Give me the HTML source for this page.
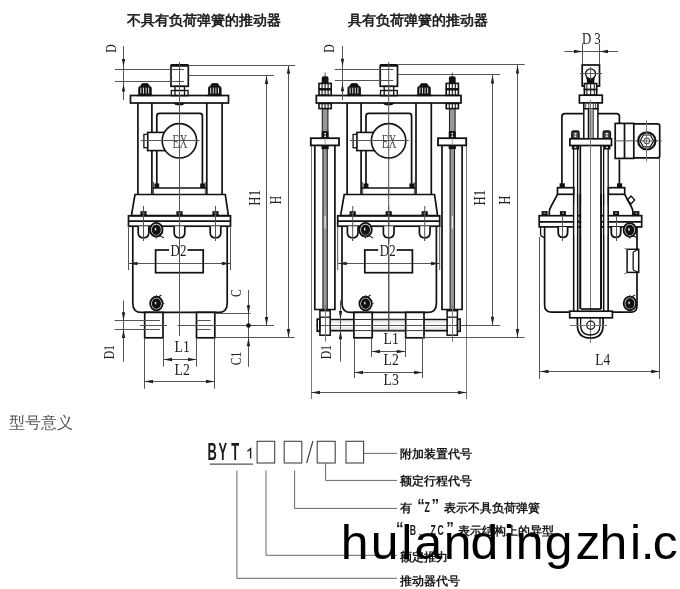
<!DOCTYPE html>
<html><head><meta charset="utf-8"><style>
html,body{margin:0;padding:0;background:#fff;width:680px;height:589px;overflow:hidden}
svg{display:block}
.sf{font-family:"Liberation Serif",serif;fill:#222}
.ls{font-family:"Liberation Sans",sans-serif}
.cj{font-family:"Liberation Sans",sans-serif}
</style></head><body>
<svg width="680" height="589" viewBox="0 0 680 589" style="will-change:transform">
<rect width="680" height="589" fill="#fff"/>
<text x="204" y="25" text-anchor="middle" class="cj" font-size="14" fill="#1a1a1a" stroke="#1a1a1a" stroke-width="0.6">不具有负荷弹簧的推动器</text>
<text x="417.5" y="25" text-anchor="middle" class="cj" font-size="14" fill="#1a1a1a" stroke="#1a1a1a" stroke-width="0.6">具有负荷弹簧的推动器</text>
<rect x="130.5" y="95.5" width="98" height="7.5" stroke="#111" stroke-width="1.7" fill="none" />
<g transform="translate(0,0)">
<rect x="171" y="65.5" width="17.3" height="20.8" stroke="#111" stroke-width="1.7" fill="none" />
<line x1="171" y1="65.3" x2="188.3" y2="65.3" stroke="#111" stroke-width="2.6"/>
<line x1="169.5" y1="74.7" x2="172" y2="74.7" stroke="#555" stroke-width="1" fill="none"/>
<rect x="175" y="86.3" width="9.5" height="4.2" stroke="#111" stroke-width="1.3" fill="none" />
<rect x="171.3" y="90.5" width="16.8" height="5.2" stroke="#111" stroke-width="1.3" fill="none" />
<line x1="179.5" y1="86.3" x2="179.5" y2="95.7" stroke="#555" stroke-width="1" fill="none"/>
<line x1="175" y1="90.5" x2="175" y2="95.7" stroke="#111" stroke-width="1.3" fill="none"/>
<line x1="184.5" y1="90.5" x2="184.5" y2="95.7" stroke="#111" stroke-width="1.3" fill="none"/>
<path d="M173.8,103 L184.8,103 Q184,105.5 179.3,105.5 Q174.6,105.5 173.8,103 Z" fill="#111" stroke="none"/>
<path d="M138.7,94.2 L138.7,88.1 Q138.7,86.2 140.7,86.2 L140.8,86.2 Q141.2,83.6 142.6,83.6 L147.4,83.6 Q148.8,83.6 149.2,86.2 L149.3,86.2 Q151.3,86.2 151.3,88.1 L151.3,94.2 L152.9,95.7 L137.1,95.7 Z" stroke="#111" stroke-width="0.8" fill="#111"/>
<rect x="140.4" y="87.6" width="1" height="6" fill="#ddd" stroke="none" />
<rect x="143" y="87.6" width="1" height="6" fill="#ddd" stroke="none" />
<rect x="145.6" y="87.6" width="1" height="6" fill="#ddd" stroke="none" />
<rect x="148.2" y="87.6" width="1" height="6" fill="#ddd" stroke="none" />
<path d="M208.5,94.2 L208.5,88.1 Q208.5,86.2 210.5,86.2 L210.6,86.2 Q211,83.6 212.4,83.6 L217.2,83.6 Q218.6,83.6 219,86.2 L219.1,86.2 Q221.1,86.2 221.1,88.1 L221.1,94.2 L222.7,95.7 L206.9,95.7 Z" stroke="#111" stroke-width="0.8" fill="#111"/>
<rect x="210.2" y="87.6" width="1" height="6" fill="#ddd" stroke="none" />
<rect x="212.8" y="87.6" width="1" height="6" fill="#ddd" stroke="none" />
<rect x="215.4" y="87.6" width="1" height="6" fill="#ddd" stroke="none" />
<rect x="218" y="87.6" width="1" height="6" fill="#ddd" stroke="none" />
<line x1="137.9" y1="103" x2="137.9" y2="194.5" stroke="#111" stroke-width="1.7" fill="none"/>
<line x1="151.9" y1="103" x2="151.9" y2="194.5" stroke="#111" stroke-width="1.7" fill="none"/>
<line x1="206.8" y1="103" x2="206.8" y2="194.5" stroke="#111" stroke-width="1.7" fill="none"/>
<line x1="222.1" y1="103" x2="222.1" y2="194.5" stroke="#111" stroke-width="1.7" fill="none"/>
<line x1="153.5" y1="182" x2="153.5" y2="194" stroke="#555" stroke-width="1" fill="none"/>
<line x1="205.2" y1="182" x2="205.2" y2="194" stroke="#555" stroke-width="1" fill="none"/>
<path d="M156.8,188 L156.8,116 Q156.8,113.4 159.4,113.4 L199.8,113.4 Q202.4,113.4 202.4,116 L202.4,188" stroke="#111" stroke-width="1.7" fill="none"/>
<line x1="152.5" y1="188" x2="206.2" y2="188" stroke="#111" stroke-width="1.7" fill="none"/>
<rect x="154.4" y="183.5" width="4.8" height="4.5" fill="#111" stroke="none" />
<rect x="200.2" y="183.5" width="4.8" height="4.5" fill="#111" stroke="none" />
<line x1="179.5" y1="62" x2="179.5" y2="336" stroke="#555" stroke-width="1" fill="none"/>
<rect x="147.6" y="132.4" width="17.5" height="18.2" stroke="#111" stroke-width="1.6" fill="#fff" />
<rect x="143.9" y="134.4" width="3.7" height="13.3" stroke="#111" stroke-width="1.3" fill="#fff" />
<circle cx="179.4" cy="140.8" r="17.2" fill="#fff" stroke="#111" stroke-width="1.6"/>
<line x1="140.6" y1="140.5" x2="199.5" y2="140.5" stroke="#555" stroke-width="1" fill="none"/>
<line x1="179.5" y1="122" x2="179.5" y2="160" stroke="#555" stroke-width="1" fill="none"/>
<g transform="translate(180,141.6) scale(0.6,1)"><text x="0" y="0" text-anchor="middle" dominant-baseline="central" class="sf" font-size="18.5" fill="#555" style="fill:#555">EX</text></g>
<path d="M135,194.5 L225.3,194.5 L228.4,215.7 L131.4,215.7 Z" stroke="#111" stroke-width="1.7" fill="#fff"/>
<line x1="179.5" y1="188" x2="179.5" y2="336" stroke="#555" stroke-width="1" fill="none"/>
<rect x="128.5" y="215.8" width="102" height="10.4" stroke="#111" stroke-width="1.7" fill="none" />
<line x1="128.5" y1="221.2" x2="230.5" y2="221.2" stroke="#111" stroke-width="1.7" fill="none"/>
<rect x="140.4" y="211.2" width="6.2" height="4.8" fill="#111" stroke="none" />
<rect x="142.3" y="212.6" width="2.4" height="1.4" fill="#888" stroke="none" />
<line x1="143.5" y1="206" x2="143.5" y2="241" stroke="#555" stroke-width="1" fill="none"/>
<rect x="176.4" y="211.2" width="6.2" height="4.8" fill="#111" stroke="none" />
<rect x="178.3" y="212.6" width="2.4" height="1.4" fill="#888" stroke="none" />
<line x1="179.5" y1="206" x2="179.5" y2="241" stroke="#555" stroke-width="1" fill="none"/>
<rect x="212.4" y="211.2" width="6.2" height="4.8" fill="#111" stroke="none" />
<rect x="214.3" y="212.6" width="2.4" height="1.4" fill="#888" stroke="none" />
<line x1="215.5" y1="206" x2="215.5" y2="241" stroke="#555" stroke-width="1" fill="none"/>
<path d="M132.8,226.2 L132.8,303.4 Q132.8,312.4 141.8,312.4 L218.2,312.4 Q227.2,312.4 227.2,303.4 L227.2,226.2" stroke="#111" stroke-width="1.7" fill="none"/>
<path d="M138.2,226.2 L138.2,232.8 Q138.2,237.8 143.5,237.8 Q148.8,237.8 148.8,232.8 L148.8,226.2" stroke="#111" stroke-width="1.7" fill="#fff"/>
<line x1="143.5" y1="226" x2="143.5" y2="241" stroke="#555" stroke-width="1" fill="none"/>
<path d="M174.2,226.2 L174.2,232.8 Q174.2,237.8 179.5,237.8 Q184.8,237.8 184.8,232.8 L184.8,226.2" stroke="#111" stroke-width="1.7" fill="#fff"/>
<line x1="179.5" y1="226" x2="179.5" y2="241" stroke="#555" stroke-width="1" fill="none"/>
<path d="M210.2,226.2 L210.2,232.8 Q210.2,237.8 215.5,237.8 Q220.8,237.8 220.8,232.8 L220.8,226.2" stroke="#111" stroke-width="1.7" fill="#fff"/>
<line x1="215.5" y1="226" x2="215.5" y2="241" stroke="#555" stroke-width="1" fill="none"/>
<ellipse cx="156.3" cy="229.7" rx="6.2" ry="6.8" fill="#fff" stroke="#111" stroke-width="1.9"/>
<ellipse cx="156.3" cy="229.7" rx="4.6" ry="5.3" fill="#111"/>
<ellipse cx="155.5" cy="229.1" rx="0.8" ry="1.6" fill="#ddd"/>
<path d="M158.8,235.7 Q162.3,236.2 163.8,238.2" stroke="#222" stroke-width="1.1" fill="none"/>
<line x1="156.3" y1="235.7" x2="156.3" y2="238.7" stroke="#333" stroke-width="0.9"/>
<ellipse cx="156.4" cy="303.6" rx="6.2" ry="6.8" fill="#fff" stroke="#111" stroke-width="1.9"/>
<ellipse cx="156.4" cy="303.6" rx="4.6" ry="5.3" fill="#111"/>
<ellipse cx="155.6" cy="303" rx="0.8" ry="1.6" fill="#ddd"/>
<path d="M158.4,297.1 L161.4,295.1" stroke="#222" stroke-width="1.2" fill="none"/>
<line x1="156.4" y1="295.1" x2="156.4" y2="297.6" stroke="#333" stroke-width="0.9"/>
<line x1="162.4" y1="303.6" x2="164.4" y2="303.6" stroke="#333" stroke-width="0.9"/>
<line x1="128.5" y1="226" x2="128.5" y2="270" stroke="#555" stroke-width="1" fill="none"/>
<line x1="230.5" y1="226" x2="230.5" y2="270" stroke="#555" stroke-width="1" fill="none"/>
<line x1="129" y1="263.5" x2="230" y2="263.5" stroke="#555" stroke-width="1" fill="none"/>
<polygon points="129.00,263.50 137.50,261.80 137.50,265.20" fill="#222"/>
<polygon points="230.30,263.50 221.80,261.80 221.80,265.20" fill="#222"/>
<rect x="155.6" y="250" width="47.6" height="22.7" stroke="#111" stroke-width="1.7" fill="none" />
<rect x="169" y="244" width="18.5" height="11" fill="#fff" stroke="none" />
<g transform="translate(178.5,250.5) scale(0.76,1)"><text x="0" y="0" text-anchor="middle" dominant-baseline="central" class="sf" font-size="17">D2</text></g>
<line x1="179.5" y1="240" x2="179.5" y2="336" stroke="#555" stroke-width="1" fill="none"/>
<rect x="144.7" y="312.4" width="18.3" height="25.4" stroke="#111" stroke-width="1.7" fill="#fff" />
<rect x="196.5" y="312.4" width="18.3" height="25.4" stroke="#111" stroke-width="1.7" fill="#fff" />
</g>
<line x1="114.6" y1="320.5" x2="160" y2="320.5" stroke="#555" stroke-width="1" fill="none"/>
<line x1="196.5" y1="320.5" x2="210.6" y2="320.5" stroke="#555" stroke-width="1" fill="none"/>
<line x1="114.6" y1="329.5" x2="160" y2="329.5" stroke="#555" stroke-width="1" fill="none"/>
<line x1="196.5" y1="329.5" x2="210.6" y2="329.5" stroke="#555" stroke-width="1" fill="none"/>
<line x1="140" y1="325.5" x2="167" y2="325.5" stroke="#555" stroke-width="1" fill="none"/>
<line x1="177.6" y1="325.5" x2="274" y2="325.5" stroke="#555" stroke-width="1" fill="none"/>
<g transform="translate(110.8,48.5) rotate(-90) scale(0.78,1)"><text x="0" y="0" text-anchor="middle" dominant-baseline="central" class="sf" font-size="15">D</text></g>
<line x1="123.5" y1="46" x2="123.5" y2="100" stroke="#555" stroke-width="1" fill="none"/>
<polygon points="123.50,66.50 121.80,59.00 125.20,59.00" fill="#222"/>
<polygon points="123.50,84.00 121.80,91.50 125.20,91.50" fill="#222"/>
<line x1="115" y1="69.5" x2="184" y2="69.5" stroke="#555" stroke-width="1" fill="none"/>
<line x1="115" y1="81.5" x2="184" y2="81.5" stroke="#555" stroke-width="1" fill="none"/>
<line x1="188.5" y1="65.5" x2="295.2" y2="65.5" stroke="#555" stroke-width="1" fill="none"/>
<line x1="188.5" y1="75.5" x2="274" y2="75.5" stroke="#555" stroke-width="1" fill="none"/>
<line x1="288.5" y1="65" x2="288.5" y2="337.6" stroke="#555" stroke-width="1" fill="none"/>
<polygon points="288.50,65.30 286.80,73.80 290.20,73.80" fill="#222"/>
<polygon points="288.50,337.60 286.80,329.10 290.20,329.10" fill="#222"/>
<line x1="266.5" y1="75.3" x2="266.5" y2="325.2" stroke="#555" stroke-width="1" fill="none"/>
<polygon points="266.50,75.50 264.80,84.00 268.20,84.00" fill="#222"/>
<polygon points="266.50,325.50 264.80,317.00 268.20,317.00" fill="#222"/>
<g transform="translate(254.2,197.8) rotate(-90) scale(0.78,1)"><text x="0" y="0" text-anchor="middle" dominant-baseline="central" class="sf" font-size="16.5">H1</text></g>
<g transform="translate(275.2,200.2) rotate(-90) scale(0.7,1)"><text x="0" y="0" text-anchor="middle" dominant-baseline="central" class="sf" font-size="16.5">H</text></g>
<line x1="216" y1="313.5" x2="250.6" y2="313.5" stroke="#555" stroke-width="1" fill="none"/>
<line x1="214.8" y1="337.5" x2="294.7" y2="337.5" stroke="#555" stroke-width="1" fill="none"/>
<line x1="248.5" y1="290" x2="248.5" y2="366.8" stroke="#555" stroke-width="1" fill="none"/>
<polygon points="248.50,313.80 246.80,305.30 250.20,305.30" fill="#222"/>
<polygon points="248.50,337.80 246.80,346.30 250.20,346.30" fill="#222"/>
<circle cx="248.5" cy="325.5" r="2.3" fill="#111" stroke="none"/>
<g transform="translate(235.7,293) rotate(-90) scale(0.78,1)"><text x="0" y="0" text-anchor="middle" dominant-baseline="central" class="sf" font-size="15">C</text></g>
<g transform="translate(235.7,358.4) rotate(-90) scale(0.78,1)"><text x="0" y="0" text-anchor="middle" dominant-baseline="central" class="sf" font-size="15">C1</text></g>
<line x1="123.5" y1="300.6" x2="123.5" y2="361.8" stroke="#555" stroke-width="1" fill="none"/>
<polygon points="123.50,320.80 121.80,312.30 125.20,312.30" fill="#222"/>
<polygon points="123.50,329.50 121.80,338.00 125.20,338.00" fill="#222"/>
<g transform="translate(109.4,352) rotate(-90) scale(0.78,1)"><text x="0" y="0" text-anchor="middle" dominant-baseline="central" class="sf" font-size="15">D1</text></g>
<line x1="163.5" y1="338" x2="163.5" y2="366.5" stroke="#555" stroke-width="1" fill="none"/>
<line x1="196.5" y1="338" x2="196.5" y2="366.5" stroke="#555" stroke-width="1" fill="none"/>
<line x1="163" y1="359.5" x2="196.5" y2="359.5" stroke="#555" stroke-width="1" fill="none"/>
<polygon points="163.50,359.50 172.00,357.80 172.00,361.20" fill="#222"/>
<polygon points="196.50,359.50 188.00,357.80 188.00,361.20" fill="#222"/>
<line x1="144.5" y1="338" x2="144.5" y2="388.8" stroke="#555" stroke-width="1" fill="none"/>
<line x1="214.5" y1="338" x2="214.5" y2="388.8" stroke="#555" stroke-width="1" fill="none"/>
<line x1="144.7" y1="381.5" x2="214.8" y2="381.5" stroke="#555" stroke-width="1" fill="none"/>
<polygon points="144.50,381.50 153.00,379.80 153.00,383.20" fill="#222"/>
<polygon points="214.50,381.50 206.00,379.80 206.00,383.20" fill="#222"/>
<g transform="translate(182.2,347) scale(0.86,1)"><text x="0" y="0" text-anchor="middle" dominant-baseline="central" class="sf" font-size="16">L1</text></g>
<g transform="translate(182.2,369.5) scale(0.86,1)"><text x="0" y="0" text-anchor="middle" dominant-baseline="central" class="sf" font-size="16">L2</text></g>
<line x1="311.5" y1="138" x2="311.5" y2="399" stroke="#777" stroke-width="1" fill="none"/>
<line x1="466.5" y1="138" x2="466.5" y2="399" stroke="#777" stroke-width="1" fill="none"/>
<path d="M314.8,145.4 L314.8,309.5 L334.9,309.5 L334.9,145.4" stroke="#111" stroke-width="1.7" fill="none"/>
<rect x="322.9" y="145.4" width="4.4" height="164" fill="#999" stroke="#222" stroke-width="1.1" />
<rect x="324.6" y="215.8" width="1" height="12.8" fill="#fff" stroke="none" />
<rect x="310.8" y="138.2" width="28.2" height="7.2" stroke="#111" stroke-width="1.8" fill="#fff" />
<line x1="325.1" y1="137" x2="325.1" y2="146.5" stroke="#888" stroke-width="0.8"/>
<rect x="321.5" y="145.4" width="7.2" height="3.7" fill="#111" stroke="none" />
<rect x="321.5" y="131.5" width="7.2" height="6.7" fill="#111" stroke="none" />
<circle cx="325.1" cy="133.6" r="0.9" fill="#fff" stroke="none"/>
<circle cx="325.1" cy="136.2" r="0.9" fill="#fff" stroke="none"/>
<rect x="322.3" y="108.5" width="5.6" height="23" fill="#999" stroke="#222" stroke-width="1.1" />
<rect x="319" y="83.4" width="12.2" height="5.5" stroke="#111" stroke-width="1.6" fill="#fff" />
<line x1="322.1" y1="83" x2="322.1" y2="89.3" stroke="#111" stroke-width="1.1"/>
<line x1="325.1" y1="83" x2="325.1" y2="89.3" stroke="#111" stroke-width="1.1"/>
<line x1="328.1" y1="83" x2="328.1" y2="89.3" stroke="#111" stroke-width="1.1"/>
<rect x="319" y="89.7" width="12.2" height="5.6" stroke="#111" stroke-width="1.6" fill="#fff" />
<line x1="322.1" y1="89.3" x2="322.1" y2="95.7" stroke="#111" stroke-width="1.1"/>
<line x1="325.1" y1="89.3" x2="325.1" y2="95.7" stroke="#111" stroke-width="1.1"/>
<line x1="328.1" y1="89.3" x2="328.1" y2="95.7" stroke="#111" stroke-width="1.1"/>
<line x1="318.5" y1="89.3" x2="331.7" y2="89.3" stroke="#111" stroke-width="1.2"/>
<rect x="319" y="103.5" width="12.2" height="5.1" stroke="#111" stroke-width="1.6" fill="#fff" />
<line x1="322.1" y1="103.1" x2="322.1" y2="109" stroke="#111" stroke-width="1.1"/>
<line x1="325.1" y1="103.1" x2="325.1" y2="109" stroke="#111" stroke-width="1.1"/>
<line x1="328.1" y1="103.1" x2="328.1" y2="109" stroke="#111" stroke-width="1.1"/>
<path d="M321.7,83 L321.7,78 Q321.7,76.2 323.5,76.2 L326.7,76.2 Q328.5,76.2 328.5,78 L328.5,83 Z" fill="#111" stroke="none"/>
<line x1="325.1" y1="72.5" x2="325.1" y2="76.5" stroke="#555" stroke-width="1" fill="none"/>
<path d="M442,145.4 L442,309.5 L462.1,309.5 L462.1,145.4" stroke="#111" stroke-width="1.7" fill="none"/>
<rect x="450.1" y="145.4" width="4.4" height="164" fill="#999" stroke="#222" stroke-width="1.1" />
<rect x="451.8" y="215.8" width="1" height="12.8" fill="#fff" stroke="none" />
<rect x="438" y="138.2" width="28.2" height="7.2" stroke="#111" stroke-width="1.8" fill="#fff" />
<line x1="452.3" y1="137" x2="452.3" y2="146.5" stroke="#888" stroke-width="0.8"/>
<rect x="448.7" y="145.4" width="7.2" height="3.7" fill="#111" stroke="none" />
<rect x="448.7" y="131.5" width="7.2" height="6.7" fill="#111" stroke="none" />
<circle cx="452.3" cy="133.6" r="0.9" fill="#fff" stroke="none"/>
<circle cx="452.3" cy="136.2" r="0.9" fill="#fff" stroke="none"/>
<rect x="449.5" y="108.5" width="5.6" height="23" fill="#999" stroke="#222" stroke-width="1.1" />
<rect x="446.2" y="83.4" width="12.2" height="5.5" stroke="#111" stroke-width="1.6" fill="#fff" />
<line x1="449.3" y1="83" x2="449.3" y2="89.3" stroke="#111" stroke-width="1.1"/>
<line x1="452.3" y1="83" x2="452.3" y2="89.3" stroke="#111" stroke-width="1.1"/>
<line x1="455.3" y1="83" x2="455.3" y2="89.3" stroke="#111" stroke-width="1.1"/>
<rect x="446.2" y="89.7" width="12.2" height="5.6" stroke="#111" stroke-width="1.6" fill="#fff" />
<line x1="449.3" y1="89.3" x2="449.3" y2="95.7" stroke="#111" stroke-width="1.1"/>
<line x1="452.3" y1="89.3" x2="452.3" y2="95.7" stroke="#111" stroke-width="1.1"/>
<line x1="455.3" y1="89.3" x2="455.3" y2="95.7" stroke="#111" stroke-width="1.1"/>
<line x1="445.7" y1="89.3" x2="458.9" y2="89.3" stroke="#111" stroke-width="1.2"/>
<rect x="446.2" y="103.5" width="12.2" height="5.1" stroke="#111" stroke-width="1.6" fill="#fff" />
<line x1="449.3" y1="103.1" x2="449.3" y2="109" stroke="#111" stroke-width="1.1"/>
<line x1="452.3" y1="103.1" x2="452.3" y2="109" stroke="#111" stroke-width="1.1"/>
<line x1="455.3" y1="103.1" x2="455.3" y2="109" stroke="#111" stroke-width="1.1"/>
<path d="M448.9,83 L448.9,78 Q448.9,76.2 450.7,76.2 L453.9,76.2 Q455.7,76.2 455.7,78 L455.7,83 Z" fill="#111" stroke="none"/>
<line x1="452.3" y1="72.5" x2="452.3" y2="76.5" stroke="#555" stroke-width="1" fill="none"/>
<rect x="330" y="319.5" width="118" height="11.1" stroke="none" fill="#fff" />
<line x1="330" y1="319.5" x2="448" y2="319.5" stroke="#111" stroke-width="1.7" fill="none"/>
<line x1="330" y1="330.6" x2="448" y2="330.6" stroke="#111" stroke-width="1.7" fill="none"/>
<line x1="330" y1="322" x2="448" y2="322" stroke="#ccc" stroke-width="0.8"/>
<line x1="330" y1="328" x2="448" y2="328" stroke="#ccc" stroke-width="0.8"/>
<line x1="316" y1="325.5" x2="500.3" y2="325.5" stroke="#555" stroke-width="1" fill="none"/>
<rect x="319.9" y="310.7" width="10.3" height="24.5" stroke="#111" stroke-width="1.5" fill="none" />
<line x1="319.9" y1="317.2" x2="330.2" y2="317.2" stroke="#111" stroke-width="1.3" fill="none"/>
<line x1="325.5" y1="305" x2="325.5" y2="341.7" stroke="#777" stroke-width="1" fill="none"/>
<rect x="447.1" y="310.7" width="10.3" height="24.5" stroke="#111" stroke-width="1.5" fill="none" />
<line x1="447.1" y1="317.2" x2="457.4" y2="317.2" stroke="#111" stroke-width="1.3" fill="none"/>
<line x1="452.5" y1="305" x2="452.5" y2="341.7" stroke="#777" stroke-width="1" fill="none"/>
<rect x="317.2" y="319.1" width="2.6" height="12.2" stroke="#111" stroke-width="1.6" fill="#fff" />
<rect x="457.6" y="319.1" width="2.6" height="12.2" stroke="#111" stroke-width="1.6" fill="#fff" />
<rect x="316.3" y="95.5" width="144.7" height="7.5" stroke="#111" stroke-width="1.7" fill="none" />
<g transform="translate(209.2,0)">
<rect x="171" y="65.5" width="17.3" height="20.8" stroke="#111" stroke-width="1.7" fill="none" />
<line x1="171" y1="65.3" x2="188.3" y2="65.3" stroke="#111" stroke-width="2.6"/>
<line x1="169.5" y1="74.7" x2="172" y2="74.7" stroke="#555" stroke-width="1" fill="none"/>
<rect x="175" y="86.3" width="9.5" height="4.2" stroke="#111" stroke-width="1.3" fill="none" />
<rect x="171.3" y="90.5" width="16.8" height="5.2" stroke="#111" stroke-width="1.3" fill="none" />
<line x1="179.5" y1="86.3" x2="179.5" y2="95.7" stroke="#555" stroke-width="1" fill="none"/>
<line x1="175" y1="90.5" x2="175" y2="95.7" stroke="#111" stroke-width="1.3" fill="none"/>
<line x1="184.5" y1="90.5" x2="184.5" y2="95.7" stroke="#111" stroke-width="1.3" fill="none"/>
<path d="M173.8,103 L184.8,103 Q184,105.5 179.3,105.5 Q174.6,105.5 173.8,103 Z" fill="#111" stroke="none"/>
<path d="M138.7,94.2 L138.7,88.1 Q138.7,86.2 140.7,86.2 L140.8,86.2 Q141.2,83.6 142.6,83.6 L147.4,83.6 Q148.8,83.6 149.2,86.2 L149.3,86.2 Q151.3,86.2 151.3,88.1 L151.3,94.2 L152.9,95.7 L137.1,95.7 Z" stroke="#111" stroke-width="0.8" fill="#111"/>
<rect x="140.4" y="87.6" width="1" height="6" fill="#ddd" stroke="none" />
<rect x="143" y="87.6" width="1" height="6" fill="#ddd" stroke="none" />
<rect x="145.6" y="87.6" width="1" height="6" fill="#ddd" stroke="none" />
<rect x="148.2" y="87.6" width="1" height="6" fill="#ddd" stroke="none" />
<path d="M208.5,94.2 L208.5,88.1 Q208.5,86.2 210.5,86.2 L210.6,86.2 Q211,83.6 212.4,83.6 L217.2,83.6 Q218.6,83.6 219,86.2 L219.1,86.2 Q221.1,86.2 221.1,88.1 L221.1,94.2 L222.7,95.7 L206.9,95.7 Z" stroke="#111" stroke-width="0.8" fill="#111"/>
<rect x="210.2" y="87.6" width="1" height="6" fill="#ddd" stroke="none" />
<rect x="212.8" y="87.6" width="1" height="6" fill="#ddd" stroke="none" />
<rect x="215.4" y="87.6" width="1" height="6" fill="#ddd" stroke="none" />
<rect x="218" y="87.6" width="1" height="6" fill="#ddd" stroke="none" />
<line x1="137.9" y1="103" x2="137.9" y2="194.5" stroke="#111" stroke-width="1.7" fill="none"/>
<line x1="151.9" y1="103" x2="151.9" y2="194.5" stroke="#111" stroke-width="1.7" fill="none"/>
<line x1="206.8" y1="103" x2="206.8" y2="194.5" stroke="#111" stroke-width="1.7" fill="none"/>
<line x1="222.1" y1="103" x2="222.1" y2="194.5" stroke="#111" stroke-width="1.7" fill="none"/>
<line x1="153.5" y1="182" x2="153.5" y2="194" stroke="#555" stroke-width="1" fill="none"/>
<line x1="205.2" y1="182" x2="205.2" y2="194" stroke="#555" stroke-width="1" fill="none"/>
<path d="M156.8,188 L156.8,116 Q156.8,113.4 159.4,113.4 L199.8,113.4 Q202.4,113.4 202.4,116 L202.4,188" stroke="#111" stroke-width="1.7" fill="none"/>
<line x1="152.5" y1="188" x2="206.2" y2="188" stroke="#111" stroke-width="1.7" fill="none"/>
<rect x="154.4" y="183.5" width="4.8" height="4.5" fill="#111" stroke="none" />
<rect x="200.2" y="183.5" width="4.8" height="4.5" fill="#111" stroke="none" />
<line x1="179.5" y1="62" x2="179.5" y2="331" stroke="#555" stroke-width="1" fill="none"/>
<rect x="147.6" y="132.4" width="17.5" height="18.2" stroke="#111" stroke-width="1.6" fill="#fff" />
<rect x="143.9" y="134.4" width="3.7" height="13.3" stroke="#111" stroke-width="1.3" fill="#fff" />
<circle cx="179.4" cy="140.8" r="17.2" fill="#fff" stroke="#111" stroke-width="1.6"/>
<line x1="140.6" y1="140.5" x2="199.5" y2="140.5" stroke="#555" stroke-width="1" fill="none"/>
<line x1="179.5" y1="122" x2="179.5" y2="160" stroke="#555" stroke-width="1" fill="none"/>
<g transform="translate(180,141.6) scale(0.6,1)"><text x="0" y="0" text-anchor="middle" dominant-baseline="central" class="sf" font-size="18.5" fill="#555" style="fill:#555">EX</text></g>
<path d="M135,194.5 L225.3,194.5 L228.4,215.7 L131.4,215.7 Z" stroke="#111" stroke-width="1.7" fill="#fff"/>
<line x1="179.5" y1="188" x2="179.5" y2="331" stroke="#555" stroke-width="1" fill="none"/>
<rect x="128.5" y="215.8" width="102" height="10.4" stroke="#111" stroke-width="1.7" fill="none" />
<line x1="128.5" y1="221.2" x2="230.5" y2="221.2" stroke="#111" stroke-width="1.7" fill="none"/>
<rect x="140.4" y="211.2" width="6.2" height="4.8" fill="#111" stroke="none" />
<rect x="142.3" y="212.6" width="2.4" height="1.4" fill="#888" stroke="none" />
<line x1="143.5" y1="206" x2="143.5" y2="241" stroke="#555" stroke-width="1" fill="none"/>
<rect x="176.4" y="211.2" width="6.2" height="4.8" fill="#111" stroke="none" />
<rect x="178.3" y="212.6" width="2.4" height="1.4" fill="#888" stroke="none" />
<line x1="179.5" y1="206" x2="179.5" y2="241" stroke="#555" stroke-width="1" fill="none"/>
<rect x="212.4" y="211.2" width="6.2" height="4.8" fill="#111" stroke="none" />
<rect x="214.3" y="212.6" width="2.4" height="1.4" fill="#888" stroke="none" />
<line x1="215.5" y1="206" x2="215.5" y2="241" stroke="#555" stroke-width="1" fill="none"/>
<path d="M132.8,226.2 L132.8,303.4 Q132.8,312.4 141.8,312.4 L218.2,312.4 Q227.2,312.4 227.2,303.4 L227.2,226.2" stroke="#111" stroke-width="1.7" fill="none"/>
<path d="M138.2,226.2 L138.2,232.8 Q138.2,237.8 143.5,237.8 Q148.8,237.8 148.8,232.8 L148.8,226.2" stroke="#111" stroke-width="1.7" fill="#fff"/>
<line x1="143.5" y1="226" x2="143.5" y2="241" stroke="#555" stroke-width="1" fill="none"/>
<path d="M174.2,226.2 L174.2,232.8 Q174.2,237.8 179.5,237.8 Q184.8,237.8 184.8,232.8 L184.8,226.2" stroke="#111" stroke-width="1.7" fill="#fff"/>
<line x1="179.5" y1="226" x2="179.5" y2="241" stroke="#555" stroke-width="1" fill="none"/>
<path d="M210.2,226.2 L210.2,232.8 Q210.2,237.8 215.5,237.8 Q220.8,237.8 220.8,232.8 L220.8,226.2" stroke="#111" stroke-width="1.7" fill="#fff"/>
<line x1="215.5" y1="226" x2="215.5" y2="241" stroke="#555" stroke-width="1" fill="none"/>
<ellipse cx="156.3" cy="229.7" rx="6.2" ry="6.8" fill="#fff" stroke="#111" stroke-width="1.9"/>
<ellipse cx="156.3" cy="229.7" rx="4.6" ry="5.3" fill="#111"/>
<ellipse cx="155.5" cy="229.1" rx="0.8" ry="1.6" fill="#ddd"/>
<path d="M158.8,235.7 Q162.3,236.2 163.8,238.2" stroke="#222" stroke-width="1.1" fill="none"/>
<line x1="156.3" y1="235.7" x2="156.3" y2="238.7" stroke="#333" stroke-width="0.9"/>
<ellipse cx="156.4" cy="303.6" rx="6.2" ry="6.8" fill="#fff" stroke="#111" stroke-width="1.9"/>
<ellipse cx="156.4" cy="303.6" rx="4.6" ry="5.3" fill="#111"/>
<ellipse cx="155.6" cy="303" rx="0.8" ry="1.6" fill="#ddd"/>
<path d="M158.4,297.1 L161.4,295.1" stroke="#222" stroke-width="1.2" fill="none"/>
<line x1="156.4" y1="295.1" x2="156.4" y2="297.6" stroke="#333" stroke-width="0.9"/>
<line x1="162.4" y1="303.6" x2="164.4" y2="303.6" stroke="#333" stroke-width="0.9"/>
<line x1="128.5" y1="226" x2="128.5" y2="270" stroke="#555" stroke-width="1" fill="none"/>
<line x1="230.5" y1="226" x2="230.5" y2="270" stroke="#555" stroke-width="1" fill="none"/>
<line x1="129" y1="263.5" x2="230" y2="263.5" stroke="#555" stroke-width="1" fill="none"/>
<polygon points="129.00,263.50 137.50,261.80 137.50,265.20" fill="#222"/>
<polygon points="230.30,263.50 221.80,261.80 221.80,265.20" fill="#222"/>
<rect x="155.6" y="250" width="47.6" height="22.7" stroke="#111" stroke-width="1.7" fill="none" />
<rect x="169" y="244" width="18.5" height="11" fill="#fff" stroke="none" />
<g transform="translate(178.5,250.5) scale(0.76,1)"><text x="0" y="0" text-anchor="middle" dominant-baseline="central" class="sf" font-size="17">D2</text></g>
<line x1="179.5" y1="240" x2="179.5" y2="331" stroke="#555" stroke-width="1" fill="none"/>
<rect x="144.7" y="312.4" width="18.3" height="25.4" stroke="#111" stroke-width="1.7" fill="#fff" />
<rect x="196.5" y="312.4" width="18.3" height="25.4" stroke="#111" stroke-width="1.7" fill="#fff" />
</g>
<line x1="354.3" y1="325.5" x2="422.7" y2="325.5" stroke="#555" stroke-width="1" fill="none"/>
<line x1="354" y1="319.5" x2="423" y2="319.5" stroke="#333" stroke-width="1"/>
<line x1="354" y1="330.6" x2="423" y2="330.6" stroke="#333" stroke-width="1"/>
<g transform="translate(329.3,48.5) rotate(-90) scale(0.78,1)"><text x="0" y="0" text-anchor="middle" dominant-baseline="central" class="sf" font-size="15">D</text></g>
<line x1="342.5" y1="46" x2="342.5" y2="100" stroke="#555" stroke-width="1" fill="none"/>
<polygon points="342.50,66.30 340.80,58.80 344.20,58.80" fill="#222"/>
<polygon points="342.50,83.80 340.80,91.30 344.20,91.30" fill="#222"/>
<line x1="334.8" y1="69.5" x2="393.4" y2="69.5" stroke="#555" stroke-width="1" fill="none"/>
<line x1="334.8" y1="80.5" x2="393.4" y2="80.5" stroke="#555" stroke-width="1" fill="none"/>
<line x1="397.7" y1="64.5" x2="524.7" y2="64.5" stroke="#555" stroke-width="1" fill="none"/>
<line x1="397.7" y1="74.5" x2="500" y2="74.5" stroke="#555" stroke-width="1" fill="none"/>
<line x1="517.5" y1="64.9" x2="517.5" y2="337.6" stroke="#555" stroke-width="1" fill="none"/>
<polygon points="517.50,65.00 515.80,73.50 519.20,73.50" fill="#222"/>
<polygon points="517.50,337.60 515.80,329.10 519.20,329.10" fill="#222"/>
<line x1="492.5" y1="74.9" x2="492.5" y2="324.8" stroke="#555" stroke-width="1" fill="none"/>
<polygon points="492.50,75.00 490.80,83.50 494.20,83.50" fill="#222"/>
<polygon points="492.50,325.20 490.80,316.70 494.20,316.70" fill="#222"/>
<g transform="translate(479.9,197.6) rotate(-90) scale(0.78,1)"><text x="0" y="0" text-anchor="middle" dominant-baseline="central" class="sf" font-size="16.5">H1</text></g>
<g transform="translate(504.6,200.1) rotate(-90) scale(0.78,1)"><text x="0" y="0" text-anchor="middle" dominant-baseline="central" class="sf" font-size="16.5">H</text></g>
<line x1="422.7" y1="337.5" x2="524.7" y2="337.5" stroke="#555" stroke-width="1" fill="none"/>
<line x1="340.5" y1="300.4" x2="340.5" y2="361.5" stroke="#555" stroke-width="1" fill="none"/>
<polygon points="340.50,319.50 338.80,311.00 342.20,311.00" fill="#222"/>
<polygon points="340.50,330.80 338.80,339.30 342.20,339.30" fill="#222"/>
<g transform="translate(326.4,352) rotate(-90) scale(0.78,1)"><text x="0" y="0" text-anchor="middle" dominant-baseline="central" class="sf" font-size="15">D1</text></g>
<line x1="371.5" y1="338" x2="371.5" y2="357" stroke="#555" stroke-width="1" fill="none"/>
<line x1="405.5" y1="338" x2="405.5" y2="357" stroke="#555" stroke-width="1" fill="none"/>
<line x1="371" y1="351.5" x2="405.3" y2="351.5" stroke="#555" stroke-width="1" fill="none"/>
<polygon points="371.50,351.50 380.00,349.80 380.00,353.20" fill="#222"/>
<polygon points="405.30,351.50 396.80,349.80 396.80,353.20" fill="#222"/>
<line x1="354.5" y1="338" x2="354.5" y2="378" stroke="#555" stroke-width="1" fill="none"/>
<line x1="422.5" y1="338" x2="422.5" y2="378" stroke="#555" stroke-width="1" fill="none"/>
<line x1="354.3" y1="372.5" x2="422.7" y2="372.5" stroke="#555" stroke-width="1" fill="none"/>
<polygon points="354.50,372.50 363.00,370.80 363.00,374.20" fill="#222"/>
<polygon points="422.70,372.50 414.20,370.80 414.20,374.20" fill="#222"/>
<line x1="311" y1="392.5" x2="466.7" y2="392.5" stroke="#555" stroke-width="1" fill="none"/>
<polygon points="311.50,392.50 320.00,390.80 320.00,394.20" fill="#222"/>
<polygon points="466.50,392.50 458.00,390.80 458.00,394.20" fill="#222"/>
<g transform="translate(391.2,338.5) scale(0.86,1)"><text x="0" y="0" text-anchor="middle" dominant-baseline="central" class="sf" font-size="16">L1</text></g>
<g transform="translate(391.2,359.3) scale(0.86,1)"><text x="0" y="0" text-anchor="middle" dominant-baseline="central" class="sf" font-size="16">L2</text></g>
<g transform="translate(391.2,379.2) scale(0.86,1)"><text x="0" y="0" text-anchor="middle" dominant-baseline="central" class="sf" font-size="16">L3</text></g>
<g transform="translate(591.3,38.3) scale(0.8,1)"><text x="0" y="0" text-anchor="middle" dominant-baseline="central" class="sf" font-size="16">D 3</text></g>
<line x1="564.4" y1="51.5" x2="617.9" y2="51.5" stroke="#555" stroke-width="1" fill="none"/>
<polygon points="582.50,51.50 574.00,49.80 574.00,53.20" fill="#222"/>
<polygon points="599.50,51.50 608.00,49.80 608.00,53.20" fill="#222"/>
<line x1="582.5" y1="44" x2="582.5" y2="64.6" stroke="#555" stroke-width="1" fill="none"/>
<line x1="599.5" y1="44" x2="599.5" y2="64.6" stroke="#555" stroke-width="1" fill="none"/>
<rect x="582.2" y="65" width="17.3" height="21.1" stroke="#111" stroke-width="1.7" fill="none" />
<circle cx="590.6" cy="73.8" r="5" stroke="#111" stroke-width="1.3" fill="none"/>
<path d="M586.2,76.3 Q590.6,80.5 595,76.3 L594,83.5 L587.2,83.5 Z" fill="#111" stroke="none"/>
<line x1="580" y1="73.5" x2="602" y2="73.5" stroke="#555" stroke-width="1" fill="none"/>
<line x1="590.6" y1="67" x2="590.6" y2="80" stroke="#555" stroke-width="1" fill="none"/>
<rect x="584.4" y="83.5" width="12.3" height="6.1" stroke="#111" stroke-width="1.6" fill="#fff" />
<rect x="584.4" y="89.6" width="12.3" height="5.6" stroke="#111" stroke-width="1.6" fill="#fff" />
<line x1="586.9" y1="83.5" x2="586.9" y2="95.2" stroke="#222" stroke-width="1.1"/>
<line x1="590.6" y1="83.5" x2="590.6" y2="95.2" stroke="#222" stroke-width="1.1"/>
<line x1="594.3" y1="83.5" x2="594.3" y2="95.2" stroke="#222" stroke-width="1.1"/>
<rect x="579.4" y="95.2" width="22.9" height="7.7" stroke="#111" stroke-width="1.7" fill="#fff" />
<path d="M561.9,185 L561.9,116.5 Q561.9,113.6 564.8,113.6 L616.6,113.6 Q619.4,113.6 619.4,116.5 L619.4,123.4" stroke="#111" stroke-width="1.7" fill="none"/>
<line x1="619.4" y1="159.4" x2="619.4" y2="185" stroke="#111" stroke-width="1.7" fill="none"/>
<rect x="583.8" y="102.9" width="14.1" height="5.9" stroke="#111" stroke-width="1.6" fill="#fff" />
<line x1="585.7" y1="103.5" x2="585.7" y2="108.3" stroke="#333" stroke-width="0.9"/>
<line x1="588.8" y1="103.5" x2="588.8" y2="108.3" stroke="#333" stroke-width="0.9"/>
<line x1="593.3" y1="103.5" x2="593.3" y2="108.3" stroke="#333" stroke-width="0.9"/>
<line x1="595.6" y1="103.5" x2="595.6" y2="108.3" stroke="#333" stroke-width="0.9"/>
<rect x="583.8" y="108.8" width="14.1" height="30" stroke="#111" stroke-width="1.5" fill="#fff" />
<rect x="588.4" y="108.8" width="4.9" height="30" stroke="none" fill="#aaa" />
<line x1="588.4" y1="108.8" x2="588.4" y2="138.8" stroke="#111" stroke-width="1.3"/>
<line x1="593.3" y1="108.8" x2="593.3" y2="138.8" stroke="#333" stroke-width="0.9"/>
<path d="M571.8,138.8 L571.8,133 Q571.8,131 573.6,131 L577.2,131 Q579,131 579,133 L579,138.8" stroke="#111" stroke-width="1.4" fill="#444"/>
<rect x="574.4" y="133" width="2" height="1.5" fill="#fff" stroke="none" />
<rect x="574.4" y="135.5" width="2" height="1.5" fill="#fff" stroke="none" />
<rect x="571.8" y="145.5" width="7.2" height="4" fill="#111" stroke="none" />
<rect x="574.4" y="146.5" width="2" height="1.5" fill="#fff" stroke="none" />
<path d="M603.2,138.8 L603.2,133 Q603.2,131 605,131 L608.6,131 Q610.4,131 610.4,133 L610.4,138.8" stroke="#111" stroke-width="1.4" fill="#444"/>
<rect x="605.8" y="133" width="2" height="1.5" fill="#fff" stroke="none" />
<rect x="605.8" y="135.5" width="2" height="1.5" fill="#fff" stroke="none" />
<rect x="603.2" y="145.5" width="7.2" height="4" fill="#111" stroke="none" />
<rect x="605.8" y="146.5" width="2" height="1.5" fill="#fff" stroke="none" />
<line x1="573.6" y1="149" x2="573.6" y2="311" stroke="#111" stroke-width="1.3" fill="none"/>
<line x1="577.6" y1="149" x2="577.6" y2="311" stroke="#111" stroke-width="1.3" fill="none"/>
<line x1="603.6" y1="149" x2="603.6" y2="311" stroke="#111" stroke-width="1.3" fill="none"/>
<line x1="608.2" y1="149" x2="608.2" y2="311" stroke="#111" stroke-width="1.3" fill="none"/>
<line x1="601" y1="146" x2="601" y2="309" stroke="#111" stroke-width="1.7" fill="none"/>
<line x1="580.3" y1="146" x2="580.3" y2="309" stroke="#111" stroke-width="1.7" fill="none"/>
<rect x="569.9" y="138.8" width="41.6" height="6.7" stroke="#111" stroke-width="1.7" fill="#fff" />
<line x1="590.5" y1="100" x2="590.5" y2="343" stroke="#777" stroke-width="1" fill="none"/>
<path d="M633.8,123.9 L657.7,123.9 Q659.7,123.9 659.7,125.9 L659.7,155.9 Q659.7,157.9 657.7,157.9 L633.8,157.9" stroke="#111" stroke-width="1.7" fill="none"/>
<rect x="615.2" y="123.4" width="18.6" height="35" stroke="#111" stroke-width="1.7" fill="none" />
<line x1="624.5" y1="123.4" x2="624.5" y2="158.4" stroke="#111" stroke-width="1.7" fill="none"/>
<line x1="615.2" y1="140.9" x2="662" y2="140.9" stroke="#555" stroke-width="1" fill="none"/>
<circle cx="646.8" cy="140.9" r="8.6" stroke="#111" stroke-width="2.2" fill="#fff"/>
<path d="M653.6,140.9 L650.2,146.8 L643.4,146.8 L640,140.9 L643.4,135 L650.2,135 Z" stroke="#111" stroke-width="1.2" fill="none"/>
<circle cx="646.8" cy="140.9" r="3" stroke="#333" stroke-width="1" fill="none"/>
<line x1="640" y1="140.9" x2="653.6" y2="140.9" stroke="#555" stroke-width="1" fill="none"/>
<line x1="646.5" y1="120.3" x2="646.5" y2="161.5" stroke="#777" stroke-width="1" fill="none"/>
<rect x="557.5" y="187.7" width="16.3" height="6.6" stroke="#111" stroke-width="1.7" fill="none" />
<rect x="608.4" y="187.7" width="16.3" height="6.6" stroke="#111" stroke-width="1.7" fill="none" />
<rect x="559.6" y="183.3" width="5.2" height="4.4" fill="#111" stroke="none" />
<rect x="617" y="183.3" width="5.2" height="4.4" fill="#111" stroke="none" />
<path d="M557.5,194.3 L551,206.5 Q549.3,209.5 549.3,212 L549.3,215.7" stroke="#111" stroke-width="1.7" fill="none"/>
<path d="M624.7,194.3 L631.2,206.5 Q632.9,209.5 632.9,212 L632.9,215.7" stroke="#111" stroke-width="1.7" fill="none"/>
<path d="M627.3,200 L631,196 L634.7,200 L631,204 Z" stroke="#111" stroke-width="1.3" fill="none"/>
<rect x="539.2" y="215.7" width="102.5" height="11.2" stroke="#111" stroke-width="1.7" fill="none" />
<line x1="539.2" y1="221.8" x2="641.7" y2="221.8" stroke="#111" stroke-width="1.7" fill="none"/>
<rect x="541.6" y="211.1" width="6" height="4.8" fill="#111" stroke="none" />
<rect x="543.5" y="212.5" width="2.2" height="1.4" fill="#888" stroke="none" />
<rect x="559.9" y="211.1" width="6" height="4.8" fill="#111" stroke="none" />
<rect x="561.8" y="212.5" width="2.2" height="1.4" fill="#888" stroke="none" />
<rect x="613" y="211.1" width="6" height="4.8" fill="#111" stroke="none" />
<rect x="614.9" y="212.5" width="2.2" height="1.4" fill="#888" stroke="none" />
<rect x="633.4" y="211.1" width="6" height="4.8" fill="#111" stroke="none" />
<rect x="635.3" y="212.5" width="2.2" height="1.4" fill="#888" stroke="none" />
<path d="M558.2,226.9 L558.2,232.5 Q558.2,237.4 562.9,237.4 Q567.6,237.4 567.6,232.5 L567.6,226.9" stroke="#111" stroke-width="1.8" fill="#fff"/>
<line x1="562.5" y1="217" x2="562.5" y2="241" stroke="#555" stroke-width="1" fill="none"/>
<path d="M611.3,226.9 L611.3,232.5 Q611.3,237.4 616,237.4 Q620.7,237.4 620.7,232.5 L620.7,226.9" stroke="#111" stroke-width="1.8" fill="#fff"/>
<line x1="616.5" y1="217" x2="616.5" y2="241" stroke="#555" stroke-width="1" fill="none"/>
<rect x="574.2" y="205" width="2.8" height="30" fill="#fff" stroke="none" />
<line x1="573.6" y1="194" x2="573.6" y2="311" stroke="#111" stroke-width="1.3" fill="none"/>
<line x1="577.6" y1="194" x2="577.6" y2="311" stroke="#111" stroke-width="1.3" fill="none"/>
<rect x="604.2" y="205" width="3.4" height="30" fill="#fff" stroke="none" />
<line x1="603.6" y1="194" x2="603.6" y2="311" stroke="#111" stroke-width="1.3" fill="none"/>
<line x1="608.2" y1="194" x2="608.2" y2="311" stroke="#111" stroke-width="1.3" fill="none"/>
<rect x="581.2" y="205" width="19" height="30" fill="#fff" stroke="none" />
<line x1="601" y1="194" x2="601" y2="309" stroke="#111" stroke-width="1.7" fill="none"/>
<line x1="580.3" y1="194" x2="580.3" y2="309" stroke="#111" stroke-width="1.7" fill="none"/>
<line x1="590.5" y1="205" x2="590.5" y2="235" stroke="#777" stroke-width="1" fill="none"/>
<path d="M544.6,226.9 L544.6,305 Q544.6,312.2 551.8,312.2 L569.7,312.2" stroke="#111" stroke-width="1.7" fill="none"/>
<path d="M612.4,312.2 L631,312.2 Q637,312.2 637,306 L637,226.9" stroke="#111" stroke-width="1.7" fill="none"/>
<path d="M540.6,226.9 L540.6,234.5 Q540.6,236.5 544.6,237.5" stroke="#111" stroke-width="1.3" fill="none"/>
<line x1="581" y1="309" x2="601" y2="309" stroke="#111" stroke-width="1.7" fill="none"/>
<rect x="569.7" y="311.2" width="42.7" height="6.6" stroke="#111" stroke-width="1.7" fill="#fff" />
<path d="M577.4,317.8 L577.4,325 Q577.4,338 590.5,338 Q603.1,338 603.1,325 L603.1,317.8" stroke="#111" stroke-width="1.7" fill="none"/>
<path d="M580.6,317.8 L580.6,325 Q580.6,335 590.5,335 Q600,335 600,325 L600,317.8" stroke="#111" stroke-width="1.3" fill="none"/>
<circle cx="590.7" cy="325.2" r="4" stroke="#111" stroke-width="1.3" fill="none"/>
<line x1="570" y1="325.5" x2="607.2" y2="325.5" stroke="#777" stroke-width="1" fill="none"/>
<ellipse cx="629.8" cy="229.9" rx="6.2" ry="6.8" fill="#fff" stroke="#111" stroke-width="1.9"/>
<ellipse cx="629.8" cy="229.9" rx="4.6" ry="5.3" fill="#111"/>
<ellipse cx="629" cy="229.3" rx="0.8" ry="1.6" fill="#ddd"/>
<path d="M632.3,235.9 Q635.8,236.4 637.3,238.4" stroke="#222" stroke-width="1.1" fill="none"/>
<line x1="629.8" y1="235.9" x2="629.8" y2="238.9" stroke="#333" stroke-width="0.9"/>
<ellipse cx="629.9" cy="303.4" rx="6.2" ry="6.8" fill="#fff" stroke="#111" stroke-width="1.9"/>
<ellipse cx="629.9" cy="303.4" rx="4.6" ry="5.3" fill="#111"/>
<ellipse cx="629.1" cy="302.8" rx="0.8" ry="1.6" fill="#ddd"/>
<path d="M631.9,296.9 L634.9,294.9" stroke="#222" stroke-width="1.2" fill="none"/>
<line x1="629.9" y1="294.9" x2="629.9" y2="297.4" stroke="#333" stroke-width="0.9"/>
<line x1="635.9" y1="303.4" x2="637.9" y2="303.4" stroke="#333" stroke-width="0.9"/>
<rect x="627.1" y="249.3" width="11.6" height="23.1" stroke="#111" stroke-width="1.5" fill="#fff" />
<line x1="633.2" y1="252" x2="633.2" y2="270" stroke="#111" stroke-width="1.3" fill="none"/>
<path d="M633.2,252 L638.7,249.3 M633.2,270 L638.7,272.4" stroke="#111" stroke-width="1.1" fill="none"/>
<line x1="624.5" y1="248.3" x2="627.5" y2="249.8" stroke="#555" stroke-width="1" fill="none"/>
<line x1="624.5" y1="274" x2="627.5" y2="272" stroke="#555" stroke-width="1" fill="none"/>
<line x1="539.5" y1="237" x2="539.5" y2="379" stroke="#555" stroke-width="1" fill="none"/>
<line x1="659.5" y1="158" x2="659.5" y2="379" stroke="#555" stroke-width="1" fill="none"/>
<line x1="539.9" y1="371.5" x2="659.7" y2="371.5" stroke="#555" stroke-width="1" fill="none"/>
<polygon points="540.00,371.50 548.50,369.80 548.50,373.20" fill="#222"/>
<polygon points="659.70,371.50 651.20,369.80 651.20,373.20" fill="#222"/>
<g transform="translate(602.8,359.8) scale(0.84,1)"><text x="0" y="0" text-anchor="middle" dominant-baseline="central" class="sf" font-size="16">L4</text></g>
<text x="8.5" y="427.5" class="cj" font-size="16" fill="#555" style="font-weight:300">型号意义</text>
<g transform="translate(207.5,459.7) scale(0.56,1)"><text x="0" y="0" class="ls" font-size="23" font-weight="bold" fill="#1a1a1a">B</text></g>
<g transform="translate(218.6,459.7) scale(0.56,1)"><text x="0" y="0" class="ls" font-size="23" font-weight="bold" fill="#1a1a1a">Y</text></g>
<g transform="translate(231.2,459.7) scale(0.56,1)"><text x="0" y="0" class="ls" font-size="23" font-weight="bold" fill="#1a1a1a">T</text></g>
<path d="M250.6,458.6 L250.6,448.6 L247.4,451.2" stroke="#222" stroke-width="1.4" fill="none"/>
<line x1="209.7" y1="464.1" x2="253.1" y2="464.1" stroke="#555" stroke-width="1.2"/>
<rect x="257.1" y="441.3" width="17.6" height="21.7" stroke="#444" stroke-width="1.1" fill="none" />
<rect x="284.2" y="441.3" width="17.6" height="21.7" stroke="#444" stroke-width="1.1" fill="none" />
<rect x="317.2" y="441.3" width="18" height="21.7" stroke="#444" stroke-width="1.1" fill="none" />
<rect x="346" y="441.3" width="17.6" height="21.7" stroke="#444" stroke-width="1.1" fill="none" />
<line x1="312.9" y1="441" x2="306.7" y2="463" stroke="#444" stroke-width="1.2"/>
<line x1="363.6" y1="453.4" x2="397" y2="453.4" stroke="#666" stroke-width="1" fill="none"/>
<path d="M325.6,463 L325.6,480.4 L397,480.4" stroke="#666" stroke-width="1" fill="none"/>
<path d="M294.6,470.5 L294.6,508.4 L397,508.4" stroke="#666" stroke-width="1" fill="none"/>
<path d="M266,470.5 L266,555.3 L397,555.3" stroke="#666" stroke-width="1" fill="none"/>
<path d="M236.9,470.5 L236.9,578.3 L397,578.3" stroke="#666" stroke-width="1" fill="none"/>
<text x="400" y="458" class="cj" font-size="12" fill="#1a1a1a" font-weight="bold">附加装置代号</text>
<text x="400" y="485" class="cj" font-size="12" fill="#1a1a1a" font-weight="bold">额定行程代号</text>
<text x="400" y="511.5" class="cj" font-size="12" fill="#1a1a1a" font-weight="bold">有</text>
<g transform="translate(417.2,510.5) scale(0.95,1)"><text x="0" y="0" class="ls" font-size="16" font-weight="bold" fill="#1a1a1a">“</text></g>
<g transform="translate(424.5,511.8) scale(0.6,1)"><text x="0" y="0" class="ls" font-size="14.5" font-weight="bold" fill="#1a1a1a">Z</text></g>
<g transform="translate(431.5,510.5) scale(0.95,1)"><text x="0" y="0" class="ls" font-size="16" font-weight="bold" fill="#1a1a1a">”</text></g>
<text x="444" y="511.5" class="cj" font-size="12" fill="#1a1a1a" font-weight="bold">表示不具负荷弹簧</text>
<g transform="translate(396,534.3) scale(0.95,1)"><text x="0" y="0" class="ls" font-size="16" font-weight="bold" fill="#1a1a1a">“</text></g>
<g transform="translate(409.8,535.3) scale(0.6,1)"><text x="0" y="0" class="ls" font-size="14.5" font-weight="bold" fill="#1a1a1a">B</text></g>
<text x="417.5" y="535" class="cj" font-size="12" fill="#1a1a1a" font-weight="bold">、</text>
<g transform="translate(430.5,535.3) scale(0.6,1)"><text x="0" y="0" class="ls" font-size="14.5" font-weight="bold" fill="#1a1a1a">Z</text></g>
<g transform="translate(437.6,535.3) scale(0.6,1)"><text x="0" y="0" class="ls" font-size="14.5" font-weight="bold" fill="#1a1a1a">C</text></g>
<g transform="translate(446.2,534.3) scale(0.95,1)"><text x="0" y="0" class="ls" font-size="16" font-weight="bold" fill="#1a1a1a">”</text></g>
<text x="458.3" y="535" class="cj" font-size="12" fill="#1a1a1a" font-weight="bold">表示结构上的异型</text>
<text x="400" y="561" class="cj" font-size="12" fill="#1a1a1a" font-weight="bold">额定推力</text>
<text x="400" y="584.5" class="cj" font-size="12" fill="#1a1a1a" font-weight="bold">推动器代号</text>
<g transform="translate(343.8,558.6) scale(1.05,1)"><text x="-2.9" y="0" class="ls" font-size="47.5" fill="#000">h</text></g>
<g transform="translate(373.8,558.6) scale(1.05,1)"><text x="-2.9" y="0" class="ls" font-size="47.5" fill="#000">u</text></g>
<g transform="translate(404.3,558.6) scale(1.05,1)"><text x="-2.9" y="0" class="ls" font-size="47.5" fill="#000">l</text></g>
<g transform="translate(416.5,558.6) scale(1.05,1)"><text x="-1.9" y="0" class="ls" font-size="47.5" fill="#000">a</text></g>
<g transform="translate(446.9,558.6) scale(1.05,1)"><text x="-2.9" y="0" class="ls" font-size="47.5" fill="#000">n</text></g>
<g transform="translate(472.6,558.6) scale(1.05,1)"><text x="-1.9" y="0" class="ls" font-size="47.5" fill="#000">d</text></g>
<g transform="translate(506.5,558.6) scale(1.05,1)"><text x="-2.9" y="0" class="ls" font-size="47.5" fill="#000">i</text></g>
<g transform="translate(518.8,558.6) scale(1.05,1)"><text x="-2.9" y="0" class="ls" font-size="47.5" fill="#000">n</text></g>
<g transform="translate(546.8,558.6) scale(1.05,1)"><text x="-1.9" y="0" class="ls" font-size="47.5" fill="#000">g</text></g>
<g transform="translate(577.6,558.6) scale(1.05,1)"><text x="-1.9" y="0" class="ls" font-size="47.5" fill="#000">z</text></g>
<g transform="translate(602.6,558.6) scale(1.05,1)"><text x="-2.9" y="0" class="ls" font-size="47.5" fill="#000">h</text></g>
<g transform="translate(633,558.6) scale(1.05,1)"><text x="-2.9" y="0" class="ls" font-size="47.5" fill="#000">i</text></g>
<g transform="translate(644.9,558.6) scale(1.05,1)"><text x="-3.9" y="0" class="ls" font-size="47.5" fill="#000">.</text></g>
<g transform="translate(654.8,558.6) scale(1.05,1)"><text x="-1.9" y="0" class="ls" font-size="47.5" fill="#000">c</text></g>
</svg>
</body></html>
